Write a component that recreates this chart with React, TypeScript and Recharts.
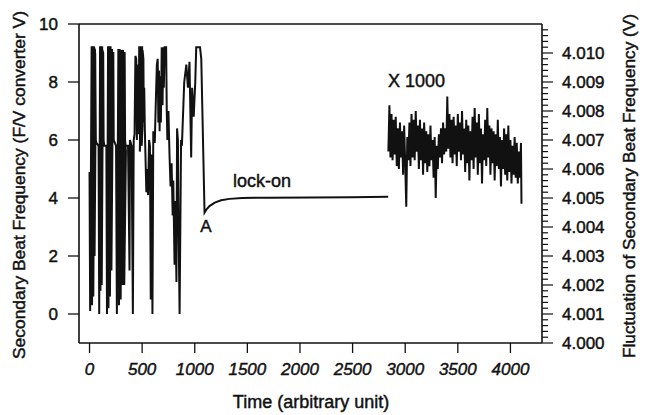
import React from 'react';
import { LineChart, Line, XAxis, YAxis, ReferenceLine } from 'recharts';

// Time axis ticks (arbitrary unit)
const timeTicks = [0, 500, 1000, 1500, 2000, 2500, 3000, 3500, 4000];
// Left axis ticks (F/V converter V)
const leftTicks = [0, 2, 4, 6, 8, 10];
// Right axis ticks (fluctuation, V) – majors every 0.001, minors every 0.0002
const rightTicks = [
  4.0, 4.0002, 4.0004, 4.0006, 4.0008, 4.001, 4.0012, 4.0014, 4.0016, 4.0018,
  4.002, 4.0022, 4.0024, 4.0026, 4.0028, 4.003, 4.0032, 4.0034, 4.0036, 4.0038,
  4.004, 4.0042, 4.0044, 4.0046, 4.0048, 4.005, 4.0052, 4.0054, 4.0056, 4.0058,
  4.006, 4.0062, 4.0064, 4.0066, 4.0068, 4.007, 4.0072, 4.0074, 4.0076, 4.0078,
  4.008, 4.0082, 4.0084, 4.0086, 4.0088, 4.009, 4.0092, 4.0094, 4.0096, 4.0098,
  4.01, 4.0102, 4.0104, 4.0106, 4.0108,
];
const rightLabels = ['4.000', '4.001', '4.002', '4.003', '4.004', '4.005', '4.006', '4.007', '4.008', '4.009', '4.010'];

// Secondary beat frequency (F/V converter V) vs time: oscillations, point A, lock-on
const beatSignal: [number, number][] = [
  [0, 4.9], [6, 0.1], [20, 9.2], [28, 9.2], [32, 6.0], [24, 0.3], [30, 9.2], [40, 9.2], [44, 6.1], [36, 0.6], [42, 9.2], [52, 9.1], [56, 6.0], [48, 2.0], [54, 9.0], [60, 6.0], [66, 5.9], [86, 5.8],
  [92, 0.0], [100, 9.2], [108, 9.2], [112, 6.1], [104, 0.8], [110, 9.2], [120, 9.2], [124, 6.1], [116, 1.0], [122, 9.1], [130, 9.0], [134, 6.0], [140, 5.8], [160, 5.8],
  [166, 0.0], [176, 9.2], [186, 9.2], [190, 6.1], [180, 0.2], [188, 9.2], [200, 9.2], [204, 6.1], [194, 0.6], [202, 9.1], [214, 9.1], [218, 6.0], [208, 1.5], [216, 9.0], [226, 9.0], [230, 6.0], [252, 5.8],
  [260, 0.0], [274, 9.1], [286, 9.1], [290, 6.1], [280, 0.3], [288, 9.0], [302, 9.1], [306, 6.1], [296, 0.5], [304, 9.0], [318, 9.1], [322, 6.0], [312, 1.0], [320, 9.0], [334, 9.0], [338, 6.0], [346, 5.6], [330, 1.0], [340, 5.8], [366, 5.8],
  [380, 1.5], [384, 6.0], [400, 5.8], [412, 0.0], [420, 6.0], [428, 6.2],
  [436, 8.9], [444, 8.8], [450, 6.0], [458, 8.6], [466, 6.2], [472, 9.2], [482, 9.2], [486, 6.4], [478, 5.6], [490, 9.2], [500, 9.2], [504, 6.5], [496, 5.8], [504, 9.1], [512, 8.8], [516, 6.6], [520, 7.8], [526, 6.3],
  [540, 4.2], [548, 5.0], [556, 4.1], [566, 6.0], [574, 5.8], [582, 0.5], [588, 5.5], [598, 0.0], [606, 6.3],
  [612, 6.1], [620, 5.9], [632, 7.6], [640, 8.6], [648, 8.8], [654, 6.6], [660, 8.4], [666, 6.3], [672, 8.2], [678, 6.6], [686, 9.2], [694, 7.2], [700, 9.2], [706, 7.8], [714, 9.2], [728, 9.2], [734, 7.0],
  [740, 6.0], [750, 7.0], [760, 5.5], [770, 4.4], [780, 5.2], [790, 3.4], [796, 4.6], [808, 1.7], [814, 3.9], [820, 2.5], [826, 1.1], [832, 6.4], [840, 6.0], [846, 3.0], [856, 0.0],
  [870, 6.0], [878, 5.8], [900, 8.0], [920, 8.6], [935, 7.8], [950, 8.7], [966, 5.4], [975, 7.8], [990, 6.8], [1005, 8.0], [1014, 9.2], [1050, 9.2], [1062, 8.8], [1093, 3.5],
  [1110, 3.6], [1140, 3.72], [1190, 3.84], [1250, 3.92], [1330, 3.97], [1450, 4.0], [1700, 4.01], [2100, 4.02], [2500, 4.03], [2838, 4.04],
];

// Fluctuation of secondary beat frequency after lock-on (X 1000), right axis (V)
const fluctuation: [number, number][] = [
  [2840, 4.0066], [2850, 4.0082], [2860, 4.0064], [2870, 4.0079], [2880, 4.0063], [2890, 4.0077], [2900, 4.0065], [2910, 4.0078],
  [2920, 4.0061], [2930, 4.0074], [2940, 4.006], [2950, 4.0076], [2960, 4.0064], [2970, 4.0073], [2980, 4.0058], [2990, 4.0075],
  [3000, 4.0062], [3010, 4.0047], [3020, 4.0071], [3030, 4.0063], [3040, 4.0076], [3050, 4.0061], [3060, 4.0079], [3070, 4.0064],
  [3080, 4.0077], [3090, 4.0063], [3100, 4.008], [3110, 4.0066], [3120, 4.0075], [3130, 4.006], [3140, 4.0077], [3150, 4.0063],
  [3160, 4.0074], [3170, 4.0058], [3180, 4.0076], [3190, 4.0062], [3200, 4.0073], [3210, 4.0059], [3220, 4.0072], [3230, 4.0061],
  [3240, 4.0075], [3250, 4.0063], [3260, 4.007], [3270, 4.0057], [3280, 4.0071], [3290, 4.005], [3300, 4.0068], [3310, 4.006],
  [3320, 4.0072], [3330, 4.0064], [3340, 4.0074], [3350, 4.0062], [3360, 4.0076], [3370, 4.0065], [3380, 4.0074], [3390, 4.0066],
  [3400, 4.0085], [3410, 4.0067], [3420, 4.0079], [3430, 4.0064], [3440, 4.0077], [3450, 4.0062], [3460, 4.0078], [3470, 4.0065],
  [3480, 4.0075], [3490, 4.0061], [3500, 4.0079], [3510, 4.0066], [3520, 4.0076], [3530, 4.0063], [3540, 4.008], [3550, 4.0065],
  [3560, 4.0074], [3570, 4.0059], [3580, 4.0077], [3590, 4.0062], [3600, 4.0075], [3610, 4.0056], [3620, 4.0073], [3630, 4.0063],
  [3640, 4.0078], [3650, 4.006], [3660, 4.0081], [3670, 4.0064], [3680, 4.0076], [3690, 4.0058], [3700, 4.0079], [3710, 4.0062],
  [3720, 4.0074], [3730, 4.0055], [3740, 4.0072], [3750, 4.0063], [3760, 4.0077], [3770, 4.0061], [3780, 4.0081], [3790, 4.0064],
  [3800, 4.0075], [3810, 4.0058], [3820, 4.0074], [3830, 4.0062], [3840, 4.0073], [3850, 4.0056], [3860, 4.0072], [3870, 4.0061],
  [3880, 4.0077], [3890, 4.006], [3900, 4.0071], [3910, 4.0054], [3920, 4.007], [3930, 4.006], [3940, 4.0074], [3950, 4.0058],
  [3960, 4.0072], [3970, 4.0056], [3980, 4.0075], [3990, 4.0059], [4000, 4.007], [4010, 4.0055], [4020, 4.0068], [4030, 4.0058],
  [4040, 4.0071], [4050, 4.0057], [4060, 4.0069], [4070, 4.0055], [4080, 4.0066], [4090, 4.0057], [4100, 4.0069], [4105, 4.0048],
];

const beatData = beatSignal.map(([t, v]) => ({ t, v }));
const fluctData = fluctuation.map(([t, v]) => ({ t, f: v }));

const FONT = '"Liberation Sans", Arial, Helvetica, sans-serif';
const INK = '#111';
const TXT = { fill: INK, stroke: INK, strokeWidth: 0.45 };

const LeftTick = (p: any) => (
  <text x={p.x} y={p.y} dy="0.35em" textAnchor="end" fontSize={17} fontFamily={FONT} {...TXT}>
    {p.payload.value}
  </text>
);

const BottomTick = (p: any) => (
  <text x={p.x} y={p.y} dy="0.71em" textAnchor="middle" fontSize={17} fontStyle="italic" fontFamily={FONT} {...TXT}>
    {p.payload.value}
  </text>
);

const RightTick = (p: any) => {
  const k = Math.round(p.payload.value * 10000);
  const major = k % 10 === 0;
  const label = rightLabels.find((s) => Math.round(parseFloat(s) * 10000) === k);
  return (
    <g>
      <line x1={p.x} x2={p.x + (major ? 11 : 6)} y1={p.y} y2={p.y} stroke={INK} strokeWidth={1.2} />
      {label && (
        <text x={p.x + 20} y={p.y} dy="0.35em" textAnchor="start" fontSize={17} fontFamily={FONT} {...TXT}>
          {label}
        </text>
      )}
    </g>
  );
};

export default function App() {
  return (
    <div style={{ position: 'absolute', left: 0, top: 0, width: 648, height: 415, background: '#fff' }}>
      <LineChart width={648} height={415} margin={{ top: 24, right: 0, bottom: 0, left: 0 }}>
        <XAxis
          type="number"
          dataKey="t"
          domain={[-100, 4300]}
          ticks={timeTicks}
          interval={0}
          height={72}
          tickSize={10}
          tickMargin={10}
          axisLine={{ stroke: INK, strokeWidth: 1.6 }}
          tickLine={{ stroke: INK, strokeWidth: 1.3 }}
          tick={BottomTick}
          allowDataOverflow
        />
        <YAxis
          yAxisId="left"
          orientation="left"
          type="number"
          domain={[-1, 10]}
          ticks={leftTicks}
          interval={0}
          width={79}
          tickSize={11}
          tickMargin={10}
          axisLine={{ stroke: INK, strokeWidth: 1.6 }}
          tickLine={{ stroke: INK, strokeWidth: 1.3 }}
          tick={LeftTick}
          allowDataOverflow
        />
        <YAxis
          yAxisId="right"
          orientation="right"
          type="number"
          domain={[4.0, 4.011]}
          ticks={rightTicks}
          interval={0}
          width={106}
          tickSize={0}
          tickMargin={0}
          axisLine={{ stroke: INK, strokeWidth: 1.6 }}
          tickLine={false}
          tick={RightTick}
          allowDataOverflow
        />
        <ReferenceLine yAxisId="left" y={10} stroke={INK} strokeWidth={1.6} />
        <Line
          yAxisId="left"
          data={beatData}
          dataKey="v"
          type="linear"
          stroke={INK}
          strokeWidth={2}
          dot={false}
          isAnimationActive={false}
        />
        <Line
          yAxisId="right"
          data={fluctData}
          dataKey="f"
          type="linear"
          stroke={INK}
          strokeWidth={2}
          dot={false}
          isAnimationActive={false}
        />
      </LineChart>
      <svg
        width={648}
        height={415}
        style={{ position: 'absolute', left: 0, top: 0, pointerEvents: 'none' }}
        fontFamily={FONT}
        fill={INK}
        stroke={INK}
        strokeWidth={0.45}
      >
        <text transform="translate(25,185) rotate(-90)" textAnchor="middle" fontSize={17.4}>
          Secondary Beat Frequency (F/V converter V)
        </text>
        <text transform="translate(635,186) rotate(-90)" textAnchor="middle" fontSize={17.2}>
          Fluctuation of Secondary Beat Frequency (V)
        </text>
        <text x={311} y={408} textAnchor="middle" fontSize={18}>
          Time (arbitrary unit)
        </text>
        <text x={233} y={187} fontSize={18}>lock-on</text>
        <text x={206} y={232} textAnchor="middle" fontSize={17}>A</text>
        <text x={388} y={87} fontSize={18}>X 1000</text>
      </svg>
    </div>
  );
}
